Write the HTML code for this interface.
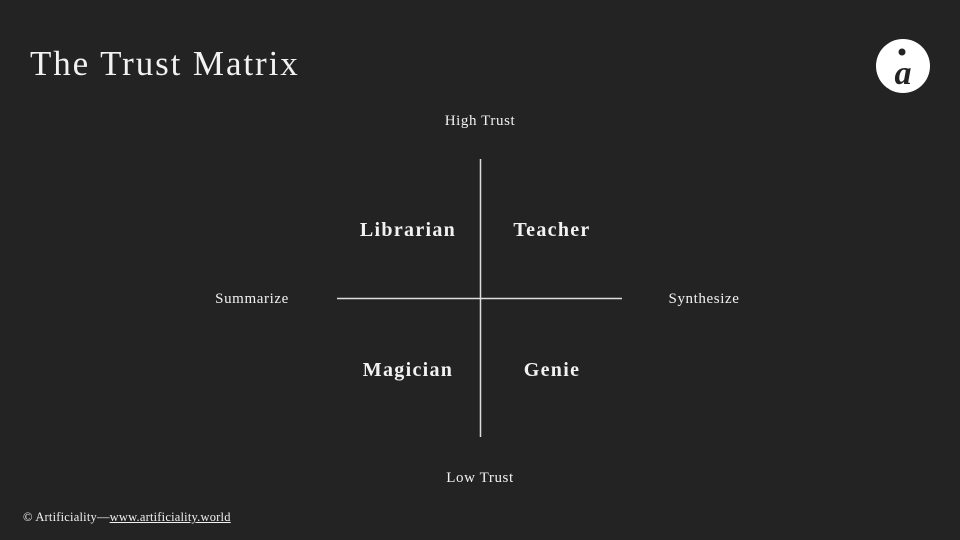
<!DOCTYPE html>
<html><head><meta charset="utf-8"><style>
body{margin:0;width:960px;height:540px;background:#232323;position:relative;overflow:hidden;font-family:"Liberation Serif",serif;color:#f2f2f2}
.t{position:absolute;white-space:nowrap}
.c{transform:translateX(-50%)}
.b{font-weight:bold;font-size:20px;letter-spacing:1.3px}
.s{font-size:15px;letter-spacing:0.6px}
</style></head><body>
<div class="t" style="left:30px;top:44px;font-size:35px;letter-spacing:1.9px">The Trust Matrix</div>
<svg style="position:absolute;left:0;top:0" width="960" height="540">
<circle cx="903" cy="66" r="27" fill="#fff"/>
<circle cx="902" cy="52" r="3.5" fill="#232323"/>
<text x="903" y="84" text-anchor="middle" font-family="Liberation Serif" font-style="italic" font-weight="bold" font-size="34" fill="#232323">a</text>
<line x1="480.5" y1="159" x2="480.5" y2="437" stroke="#ddd" stroke-width="1.5"/>
<line x1="337" y1="298.5" x2="622" y2="298.5" stroke="#ddd" stroke-width="1.5"/>
</svg>
<div class="t c s" style="left:480px;top:113px">High Trust</div>
<div class="t c s" style="left:480px;top:470px">Low Trust</div>
<div class="t c s" style="left:252px;top:291px">Summarize</div>
<div class="t c s" style="left:704px;top:291px">Synthesize</div>
<div class="t c b" style="left:408px;top:219px">Librarian</div>
<div class="t c b" style="left:552px;top:219px">Teacher</div>
<div class="t c b" style="left:408px;top:359px">Magician</div>
<div class="t c b" style="left:552px;top:359px">Genie</div>
<div class="t" style="left:23px;top:510px;font-size:12.5px;letter-spacing:0.2px;font-family:'Liberation Serif',serif">© Artificiality—<span style="text-decoration:underline">www.artificiality.world</span></div>
</body></html>
